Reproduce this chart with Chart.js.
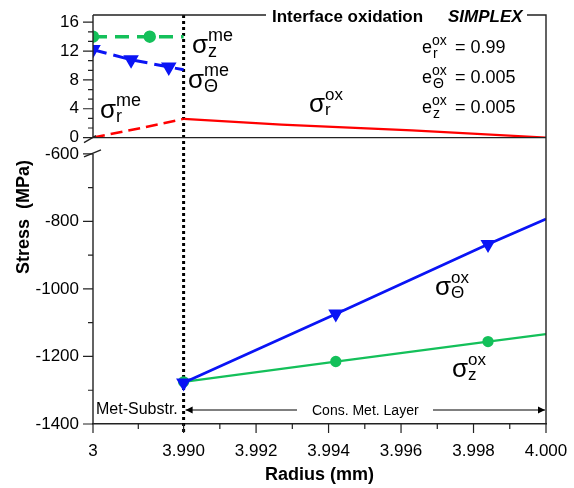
<!DOCTYPE html>
<html>
<head>
<meta charset="utf-8">
<script src="https://cdn.jsdelivr.net/npm/chart.js@4"></script>
<style>
  html, body { margin: 0; padding: 0; background: #fff; }
</style>
</head>
<body>
<canvas id="chart" width="574" height="488"></canvas>
<script>
// metal substrate (radius in mm, stress in MPa)
const metRadiusZ = [3, 3.62, 3.99];
const metSigmaZ = [14, 14, 14];
const metRadiusT = [3, 3.416, 3.828, 3.99];
const metSigmaT = [12.2, 10.8, 9.8, 9.4];
const metRadiusR = [3, 3.515, 3.99];
const metSigmaR = [0, 1.3, 2.6];

// oxide layer
const oxRadiusR = [3.990, 3.9927, 3.9963, 4.000];
const oxSigmaR = [2.6, 1.8, 1.0, 0];
const oxRadius = [3.990, 3.9942, 3.9984, 4.000];
const oxSigmaT = [-1278, -1074, -868, -793];
const oxSigmaZ = [-1275, -1215, -1156, -1134];

// axes
const xTickRadius = [3, 3.990, 3.992, 3.994, 3.996, 3.998, 4.000];
const xTickLabels = ["3", "3.990", "3.992", "3.994", "3.996", "3.998", "4.000"];
const yTopTicks = [0, 4, 8, 12, 16];
const yBotTicks = [-1400, -1200, -1000, -800, -600];

const FONT = "'Liberation Sans', Arial, sans-serif";

// the substrate part (3 .. 3.990) is squeezed into 2.5 units, the layer is 1 unit per micron
function toAxis(r) {
  if (r >= 3.99) return (r - 3.99) * 1000;
  return -2.5 * (3.99 - r) / 0.99;
}
function pts(xs, ys) {
  return xs.map((r, i) => ({ x: toAxis(r), y: ys[i] }));
}

function drawSigma(ctx, x, y, sup, sub, big, small) {
  ctx.font = big + "px " + FONT;
  ctx.fillText("σ", x, y);
  const w = ctx.measureText("σ").width;
  ctx.font = small + "px " + FONT;
  ctx.fillText(sup, x + w, y - big * 0.48);
  ctx.fillText(sub, x + w, y + small * 0.2);
}

function drawE(ctx, x, y, sub, val) {
  ctx.font = "18px " + FONT;
  ctx.fillText("e", x, y);
  const w = ctx.measureText("e").width;
  ctx.font = "14px " + FONT;
  ctx.fillText("ox", x + w, y - 8);
  ctx.fillText(sub, x + w + 1, y + 5);
  ctx.font = "18px " + FONT;
  ctx.fillText("= " + val, 455, y);
}

function arrowHead(ctx, x, y, dir) {
  ctx.beginPath();
  ctx.moveTo(x, y);
  ctx.lineTo(x - dir * 7, y - 3.5);
  ctx.lineTo(x - dir * 7, y + 3.5);
  ctx.closePath();
  ctx.fill();
}

function noPad(s) {
  s.paddingLeft = s.paddingRight = s.paddingTop = s.paddingBottom = 0;
}

const decor = {
  id: "decor",
  beforeDatasetsDraw(chart) {
    const { ctx, chartArea: a, scales } = chart;
    const xi = scales.x.getPixelForValue(toAxis(3.99));
    ctx.save();
    ctx.strokeStyle = "#000";
    ctx.lineWidth = 3;
    ctx.setLineDash([3, 3]);
    ctx.beginPath();
    ctx.moveTo(xi, a.top);
    ctx.lineTo(xi, a.bottom + 8);
    ctx.stroke();
    ctx.restore();
  },
  afterDraw(chart) {
    const { ctx, chartArea: a, scales } = chart;
    const yT = scales.yTop, yB = scales.yBot, x = scales.x;
    const y0 = yT.getPixelForValue(0);
    const y600 = yB.getPixelForValue(-600);
    ctx.save();
    ctx.strokeStyle = "#222";
    ctx.fillStyle = "#000";
    ctx.lineWidth = 1.4;

    // frame
    ctx.beginPath();
    ctx.moveTo(a.left, a.top); ctx.lineTo(a.left, y0);
    ctx.moveTo(a.left, y600); ctx.lineTo(a.left, a.bottom);
    ctx.moveTo(a.left, y0); ctx.lineTo(a.right, y0);
    ctx.moveTo(a.left, a.top); ctx.lineTo(266, a.top);
    ctx.moveTo(527, a.top); ctx.lineTo(a.right, a.top);
    ctx.lineTo(a.right, a.bottom);
    ctx.stroke();

    // axis break marks
    ctx.beginPath();
    ctx.moveTo(a.left - 9, y0 + 5); ctx.lineTo(a.left + 3, y0 - 2);
    ctx.moveTo(a.left - 9, y600 + 3); ctx.lineTo(a.left + 8, y600 - 4);
    ctx.stroke();

    // y ticks
    ctx.lineWidth = 1.2;
    ctx.beginPath();
    yTopTicks.forEach((v, i) => {
      const p = yT.getPixelForValue(v);
      ctx.moveTo(a.left - 10, p); ctx.lineTo(a.left, p);
      if (i < yTopTicks.length - 1) {
        const step = (yTopTicks[i + 1] - v) / 3;
        [1, 2].forEach(k => {
          const q = yT.getPixelForValue(v + k * step);
          ctx.moveTo(a.left - 5, q); ctx.lineTo(a.left, q);
        });
      }
    });
    yBotTicks.forEach((v, i) => {
      const p = yB.getPixelForValue(v);
      ctx.moveTo(a.left - 10, p); ctx.lineTo(a.left, p);
      if (i < yBotTicks.length - 1) {
        const q = yB.getPixelForValue((v + yBotTicks[i + 1]) / 2);
        ctx.moveTo(a.left - 5, q); ctx.lineTo(a.left, q);
      }
    });
    // x ticks
    xTickRadius.forEach((r, i) => {
      const p = x.getPixelForValue(toAxis(r));
      ctx.moveTo(p, a.bottom); ctx.lineTo(p, a.bottom + 9);
      if (i < xTickRadius.length - 1) {
        const q = x.getPixelForValue((toAxis(r) + toAxis(xTickRadius[i + 1])) / 2);
        ctx.moveTo(q, a.bottom); ctx.lineTo(q, a.bottom + 5);
      }
    });
    ctx.stroke();

    // title
    ctx.textBaseline = "alphabetic";
    ctx.font = "bold 17px " + FONT;
    ctx.fillText("Interface oxidation", 272, 21.5);
    ctx.font = "italic bold 17px " + FONT;
    ctx.fillText("SIMPLEX", 448, 21.5);

    // axis titles
    ctx.font = "bold 18px " + FONT;
    ctx.textAlign = "center";
    ctx.fillText("Radius (mm)", (a.left + a.right) / 2, 480);
    ctx.save();
    ctx.translate(29, 217);
    ctx.rotate(-Math.PI / 2);
    ctx.fillText("Stress  (MPa)", 0, 0);
    ctx.restore();
    ctx.textAlign = "left";

    // curve labels
    drawSigma(ctx, 192, 53, "me", "z", 26, 18);
    drawSigma(ctx, 188, 88, "me", "Θ", 26, 18);
    drawSigma(ctx, 100, 118, "me", "r", 26, 18);
    drawSigma(ctx, 309, 112, "ox", "r", 26, 17);
    drawSigma(ctx, 435, 295, "ox", "Θ", 26, 17);
    drawSigma(ctx, 452, 377, "ox", "z", 26, 17);

    drawE(ctx, 422, 53, "r", "0.99");
    drawE(ctx, 422, 83, "Θ", "0.005");
    drawE(ctx, 422, 113, "z", "0.005");

    // region markers
    ctx.font = "16px " + FONT;
    ctx.fillText("Met-Substr.", 96, 414);
    ctx.font = "14px " + FONT;
    ctx.fillText("Cons. Met. Layer", 312, 415);
    const xi = x.getPixelForValue(toAxis(3.99)) + 2;
    ctx.lineWidth = 1;
    ctx.strokeStyle = "#000";
    ctx.beginPath();
    ctx.moveTo(xi, 410); ctx.lineTo(297, 410);
    ctx.moveTo(433, 410); ctx.lineTo(a.right - 1, 410);
    ctx.stroke();
    arrowHead(ctx, xi, 410, -1);
    arrowHead(ctx, a.right - 1, 410, 1);
    ctx.restore();
  }
};

const GREEN = "#14c05a", BLUE = "#0a14f5", RED = "#ff0000";

new Chart(document.getElementById("chart"), {
  type: "line",
  data: {
    datasets: [
      {
        data: pts(oxRadius, oxSigmaT), yAxisID: "yBot",
        borderColor: BLUE, backgroundColor: BLUE, borderWidth: 2.7,
        pointStyle: "triangle", rotation: 180, pointRadius: [6, 6, 6, 0]
      },
      {
        data: pts(oxRadius, oxSigmaZ), yAxisID: "yBot",
        borderColor: GREEN, backgroundColor: GREEN, borderWidth: 2.3,
        pointStyle: "circle", pointRadius: [4.5, 4.5, 4.5, 0]
      },
      {
        data: pts(oxRadiusR, oxSigmaR), yAxisID: "yTop",
        borderColor: RED, borderWidth: 2.2, pointRadius: 0
      },
      {
        data: pts(metRadiusT, metSigmaT), yAxisID: "yTop",
        borderColor: BLUE, backgroundColor: BLUE, borderWidth: 3, borderDash: [14, 7],
        pointStyle: "triangle", rotation: 180, pointRadius: [6, 6, 6, 0]
      },
      {
        data: pts(metRadiusZ, metSigmaZ), yAxisID: "yTop",
        borderColor: GREEN, backgroundColor: GREEN, borderWidth: 3.5, borderDash: [14, 8],
        pointStyle: "circle", pointRadius: [4.5, 4.5, 0]
      },
      {
        data: pts(metRadiusR, metSigmaR), yAxisID: "yTop",
        borderColor: RED, borderWidth: 2.5, borderDash: [12, 6], pointRadius: 0
      }
    ]
  },
  options: {
    responsive: false,
    animation: false,
    layout: { padding: { left: 30, top: 15, right: 28, bottom: 0 } },
    plugins: { legend: { display: false }, tooltip: { enabled: false } },
    elements: { line: { tension: 0, fill: false }, point: { borderWidth: 0 } },
    scales: {
      x: {
        type: "linear", min: toAxis(3), max: toAxis(4),
        grid: { display: false, drawTicks: false },
        border: { display: true, color: "#222", width: 1.4 },
        afterBuildTicks: s => { s.ticks = xTickRadius.map(r => ({ value: toAxis(r) })); },
        afterFit: s => { s.height = 64; noPad(s); },
        ticks: {
          autoSkip: false, maxRotation: 0, padding: 17, color: "#000",
          font: { family: FONT, size: 17 },
          callback: (v, i) => xTickLabels[i]
        }
      },
      // in a left-hand stack the scale listed last is placed on top
      yBot: {
        type: "linear", position: "left", stack: "y", stackWeight: 286.6,
        min: -1400, max: -552,
        grid: { display: false, drawTicks: false },
        border: { display: false },
        afterBuildTicks: s => { s.ticks = yBotTicks.map(v => ({ value: v })); },
        afterFit: s => { s.width = 63; noPad(s); },
        ticks: { autoSkip: false, padding: 14, color: "#000", font: { family: FONT, size: 17 }, callback: v => String(v) }
      },
      yTop: {
        type: "linear", position: "left", stack: "y", stackWeight: 122.7,
        min: 0, max: 17,
        grid: { display: false, drawTicks: false },
        border: { display: false },
        afterBuildTicks: s => { s.ticks = yTopTicks.map(v => ({ value: v })); },
        afterFit: s => { s.width = 63; noPad(s); },
        ticks: { autoSkip: false, padding: 14, color: "#000", font: { family: FONT, size: 17 }, callback: v => String(v) }
      }
    }
  },
  plugins: [decor]
});
</script>
</body>
</html>
